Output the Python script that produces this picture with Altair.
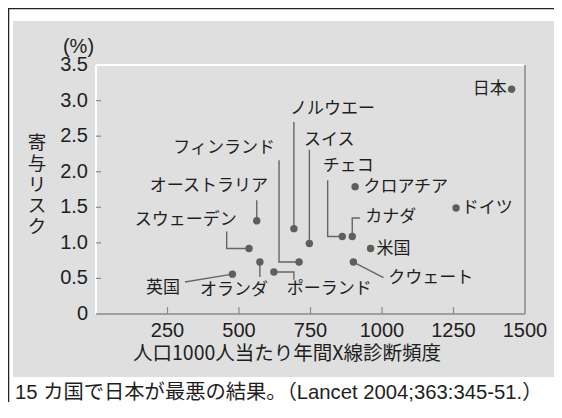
import altair as alt
import pandas as pd

# ---- data ----
countries = ["日本", "ドイツ", "クロアチア", "米国", "クウェート", "カナダ", "チェコ", "スイス",
             "ノルウエー", "フィンランド", "ポーランド", "英国", "オランダ", "スウェーデン", "オーストラリア"]
xray_freq = [1453, 1259, 906, 960, 900, 896, 861, 746, 692, 710, 622, 477, 573, 535, 562]
risk = [3.16, 1.49, 1.79, 0.92, 0.73, 1.09, 1.09, 0.99, 1.20, 0.73, 0.59, 0.56, 0.73, 0.92, 1.31]

# label anchor positions (data units) and alignment
label_x = [1436, 1279, 935, 981, 1022, 941, 793, 727, 678, 626, 667, 294, 364, 492, 601]
label_y = [3.16, 1.49, 1.79, 0.92, 0.50, 1.37, 2.08, 2.45, 2.88, 2.33, 0.35, 0.37, 0.34, 1.32, 1.80]
label_align = ["right", "left", "left", "left", "left", "left", "left", "left",
               "left", "right", "left", "right", "left", "right", "right"]

# leader lines (data units)
leader_paths = {
    "ノルウエー": [(692, 2.70), (692, 1.20)],
    "スイス": [(746, 2.31), (746, 0.99)],
    "フィンランド": [(640, 2.16), (640, 0.73), (710, 0.73)],
    "チェコ": [(810, 1.88), (810, 1.09), (861, 1.09)],
    "オーストラリア": [(562, 1.60), (562, 1.31)],
    "スウェーデン": [(457, 1.16), (457, 0.92), (535, 0.92)],
    "英国": [(311, 0.45), (477, 0.56)],
    "オランダ": [(573, 0.73), (573, 0.52)],
    "ポーランド": [(622, 0.59), (692, 0.59), (692, 0.48)],
    "カナダ": [(896, 1.09), (896, 1.35), (923, 1.35)],
    "クウェート": [(900, 0.73), (1005, 0.51)],
}

x_ticks = [250, 500, 750, 1000, 1250]
y_ticks = [0.5, 1.0, 1.5, 2.0, 2.5, 3.0]
x_labels = [250, 500, 750, 1000, 1250, 1500]
y_labels = [0, 0.5, 1.0, 1.5, 2.0, 2.5, 3.0, 3.5]
y_label_text = ["0", "0.5", "1.0", "1.5", "2.0", "2.5", "3.0", "3.5"]

x_title = "人口1000人当たり年間X線診断頻度"
y_title = ["寄", "与", "リ", "ス", "ク"]
unit_text = "(%)"
caption = "15 カ国で日本が最悪の結果。（Lancet 2004;363:345-51.）"

# ---- build tables ----
pts = pd.DataFrame({"country": countries, "x": xray_freq, "y": risk,
                    "lx": label_x, "ly": label_y, "align": label_align})
rows = []
for name, path in leader_paths.items():
    for i, (lx, ly) in enumerate(path):
        rows.append({"id": name, "seq": i, "x": lx, "y": ly})
lead = pd.DataFrame(rows)

W, H = 429, 249
JP = "Noto Sans CJK JP"
NUM = "Liberation Sans, Arial, Helvetica, sans-serif"
MIX = "Liberation Sans, Noto Sans CJK JP, sans-serif"
BG = "#dfdfdf"
TXT = "#1e1e1e"
GRAYLINE = "#8a8a8a"

xs = alt.Scale(domain=[0, 1500], nice=False)
ys = alt.Scale(domain=[0, 3.5], nice=False)


def X(field):
    return alt.X(field, type="quantitative", scale=xs, axis=None)


def Y(field):
    return alt.Y(field, type="quantitative", scale=ys, axis=None)


one = alt.Data(values=[{}])

bg = alt.Chart(one).mark_rect(color=BG).encode(
    x=alt.value(-83), x2=alt.value(458), y=alt.value(-44), y2=alt.value(312))

frame_left = alt.Chart(one).mark_rule(color="#222", strokeWidth=1.5).encode(
    x=alt.value(-87.5), y=alt.value(-57), y2=alt.value(337))
frame_top = alt.Chart(one).mark_rule(color="#222", strokeWidth=1.5).encode(
    x=alt.value(-88), x2=alt.value(458), y=alt.value(-56.5))

# plot-area border: white top/left, grey bottom/right
top_border = alt.Chart(one).mark_rule(color="white", strokeWidth=2).encode(
    x=alt.value(0), x2=alt.value(W), y=alt.value(0))
left_border = alt.Chart(one).mark_rule(color="white", strokeWidth=2).encode(
    x=alt.value(0), y=alt.value(0), y2=alt.value(H))
right_border = alt.Chart(one).mark_rule(color=GRAYLINE, strokeWidth=1.5).encode(
    x=alt.value(W), y=alt.value(0), y2=alt.value(H))
bottom_border = alt.Chart(one).mark_rule(color=GRAYLINE, strokeWidth=1.5).encode(
    x=alt.value(0), x2=alt.value(W), y=alt.value(H))

xtick = alt.Chart(pd.DataFrame({"v": x_ticks})).mark_rule(color=GRAYLINE, strokeWidth=1.2).encode(
    x=X("v"), y=alt.value(H), y2=alt.value(H - 7))
ytick = alt.Chart(pd.DataFrame({"v": y_ticks})).mark_rule(color=GRAYLINE, strokeWidth=1.2).encode(
    y=Y("v"), x=alt.value(0), x2=alt.value(5))

xlab = alt.Chart(pd.DataFrame({"v": x_labels})).mark_text(
    align="center", baseline="middle", font=NUM, fontSize=20, color=TXT).encode(
    x=X("v"), y=alt.value(H + 17), text=alt.Text("v:Q", format="d"))
ylab = alt.Chart(pd.DataFrame({"v": y_labels, "t": y_label_text})).mark_text(
    align="right", baseline="middle", font=NUM, fontSize=20, color=TXT).encode(
    y=Y("v"), x=alt.value(-8), text="t:N")

xtitle = alt.Chart(one).mark_text(align="center", baseline="middle", font=JP, fontSize=19.5,
                                  color=TXT).encode(
    x=alt.value(191), y=alt.value(H + 40), text=alt.value(x_title))
ytitle = alt.Chart(one).mark_text(align="center", baseline="middle", font=JP, fontSize=18.5,
                                  lineHeight=21, color=TXT).encode(
    x=alt.value(-59), y=alt.value(78), text=alt.value(y_title))

leaders = alt.Chart(lead).mark_line(color="#666666", strokeWidth=1.4).encode(
    x=X("x"), y=Y("y"), detail="id:N", order="seq:Q")

points = alt.Chart(pts).mark_circle(size=55, color="#5e5e5e", opacity=1).encode(
    x=X("x"), y=Y("y"))

lab_left = alt.Chart(pts).transform_filter("datum.align == 'left'").mark_text(
    align="left", baseline="middle", font=JP, fontSize=17, color=TXT).encode(
    x=X("lx"), y=Y("ly"), text="country:N")
lab_right = alt.Chart(pts).transform_filter("datum.align == 'right'").mark_text(
    align="right", baseline="middle", font=JP, fontSize=17, color=TXT).encode(
    x=X("lx"), y=Y("ly"), text="country:N")

unit = alt.Chart(one).mark_text(align="center", baseline="middle", font=NUM, fontSize=20,
                                color=TXT).encode(
    x=alt.value(-17.5), y=alt.value(-18), text=alt.value(unit_text))
cap = alt.Chart(one).mark_text(align="left", baseline="middle", font=MIX, fontSize=20.3,
                               color=TXT).encode(
    x=alt.value(-81), y=alt.value(328), text=alt.value(caption))

chart = alt.layer(
    bg, frame_left, frame_top, top_border, left_border, right_border, bottom_border,
    xtick, ytick, xlab, ylab, xtitle, ytitle,
    leaders, points, lab_left, lab_right, unit, cap
).properties(
    width=W, height=H,
    autosize=alt.AutoSizeParams(type="none"),
    padding={"left": 88, "top": 57, "right": 29, "bottom": 88},
    background="white",
).configure_view(stroke=None)

chart.save("out.html", embed_options={"renderer": "svg", "actions": False})
